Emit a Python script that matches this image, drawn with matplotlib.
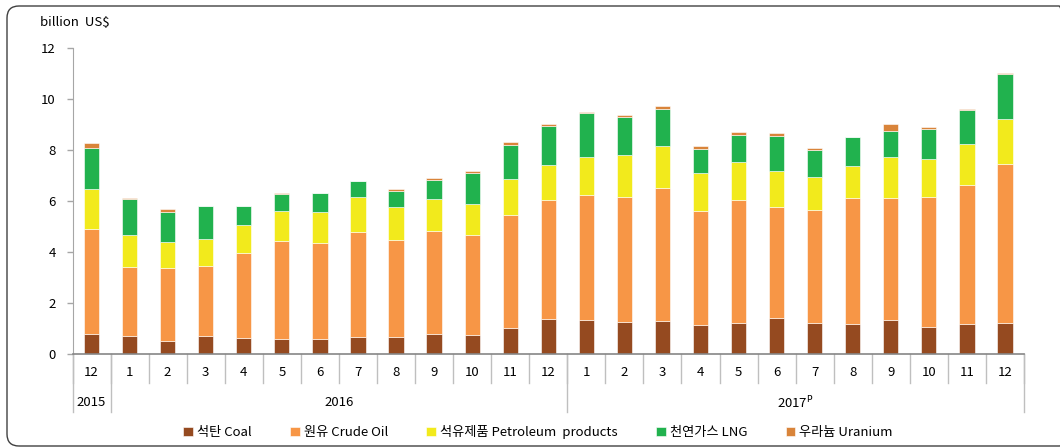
import matplotlib
matplotlib.use("Agg")
import matplotlib.pyplot as plt
import matplotlib.transforms as mtransforms
from matplotlib.patches import FancyBboxPatch
import numpy as np

plt.rcParams['font.family'] = ['Noto Sans CJK KR', 'DejaVu Sans']

# Monthly energy imports (billion US$), Dec 2015 - Dec 2017
months = ['12', '1', '2', '3', '4', '5', '6', '7', '8', '9', '10', '11', '12',
          '1', '2', '3', '4', '5', '6', '7', '8', '9', '10', '11', '12']
years = ['2015', '2016', '2017$^{\\mathsf{P}}$']
year_spans = [(0, 0), (1, 12), (13, 24)]

coal = [0.78, 0.72, 0.51, 0.69, 0.64, 0.60, 0.59, 0.68, 0.68, 0.80, 0.76, 1.03, 1.36,
        1.35, 1.27, 1.31, 1.15, 1.23, 1.41, 1.22, 1.16, 1.35, 1.07, 1.19, 1.21]
crude = [4.13, 2.68, 2.86, 2.77, 3.31, 3.84, 3.78, 4.12, 3.80, 4.04, 3.92, 4.42, 4.69,
         4.90, 4.90, 5.21, 4.46, 4.82, 4.34, 4.44, 4.96, 4.78, 5.09, 5.45, 6.23]
petro = [1.57, 1.28, 1.01, 1.04, 1.11, 1.15, 1.21, 1.37, 1.27, 1.24, 1.19, 1.43, 1.37,
         1.46, 1.62, 1.64, 1.50, 1.47, 1.43, 1.27, 1.27, 1.61, 1.49, 1.60, 1.76]
lng = [1.61, 1.40, 1.20, 1.30, 0.74, 0.70, 0.72, 0.60, 0.66, 0.76, 1.24, 1.32, 1.53,
       1.75, 1.49, 1.44, 0.94, 1.08, 1.38, 1.08, 1.11, 0.99, 1.16, 1.33, 1.79]
uranium = [0.17, 0.04, 0.12, 0.01, 0.01, 0.04, 0.03, 0.03, 0.07, 0.06, 0.07, 0.10, 0.07,
           0.03, 0.11, 0.14, 0.11, 0.11, 0.09, 0.07, 0.01, 0.29, 0.10, 0.02, 0.03]

series = [coal, crude, petro, lng, uranium]
labels = ['석탄 Coal', '원유 Crude Oil', '석유제품 Petroleum  products',
          '천연가스 LNG', '우라늄 Uranium']
colors = ['#954A20', '#F79646', '#F2EA1C', '#21B24E', '#D9843A']

W, H = 1060, 448
fig = plt.figure(figsize=(W / 100, H / 100), dpi=100)
ax = fig.add_axes([72.5 / W, 1 - 354 / H, (1024 - 72.5) / W, 306 / H])

x = np.arange(len(months))
bottom = np.zeros(len(months))
for vals, lab, col in zip(series, labels, colors):
    ax.bar(x, vals, width=0.4, bottom=bottom, color=col, label=lab,
           edgecolor='white', linewidth=0.4)
    bottom += np.array(vals)

ax.set_xlim(-0.5, len(months) - 0.5)
ax.set_ylim(0, 12)
ax.set_yticks(range(0, 13, 2))
ax.tick_params(axis='y', length=4, width=1, color='#A6A6A6', pad=8, labelsize=9.5)
ax.set_xticks([])
for s in ['top', 'right']:
    ax.spines[s].set_visible(False)
ax.spines['left'].set_color('#A6A6A6')
ax.spines['bottom'].set_color('#868686')
ax.spines['bottom'].set_linewidth(1.2)

# category axis: month labels, separators, year groups
trans = mtransforms.blended_transform_factory(ax.transData, ax.transAxes)
for i, m in enumerate(months):
    ax.text(i, -0.062, m, transform=trans, ha='center', va='center', fontsize=9.5)
for b in np.arange(-0.5, len(months), 1.0):
    ax.plot([b, b], [0, -0.095], transform=trans, color='#BFBFBF', lw=1.0, clip_on=False)
for (a, z), yr in zip(year_spans, years):
    ax.plot([a - 0.5, a - 0.5], [0, -0.19], transform=trans, color='#BFBFBF', lw=1.0, clip_on=False)
    ax.text((a + z) / 2, -0.16, yr, transform=trans, ha='center', va='center', fontsize=9.5)
ax.plot([len(months) - 0.5] * 2, [0, -0.19], transform=trans, color='#BFBFBF', lw=1.0, clip_on=False)

fig.text(40 / W, 1 - 22 / H, 'billion  US$', fontsize=9.5, va='center', ha='left')

fig.legend(loc='center', bbox_to_anchor=(538 / W, 1 - 432 / H), ncol=5, frameon=False,
           fontsize=9.5, handlelength=0.75, handleheight=0.75, handletextpad=0.3,
           columnspacing=2.9)

# rounded chart border (right side runs off the image)
border = FancyBboxPatch((7, 2), 1064, 440, boxstyle='round,pad=0,rounding_size=12',
                        transform=mtransforms.IdentityTransform(), fill=False,
                        edgecolor='#404040', linewidth=1.0)
fig.patches.append(border)

fig.savefig('out.png', dpi=100)
